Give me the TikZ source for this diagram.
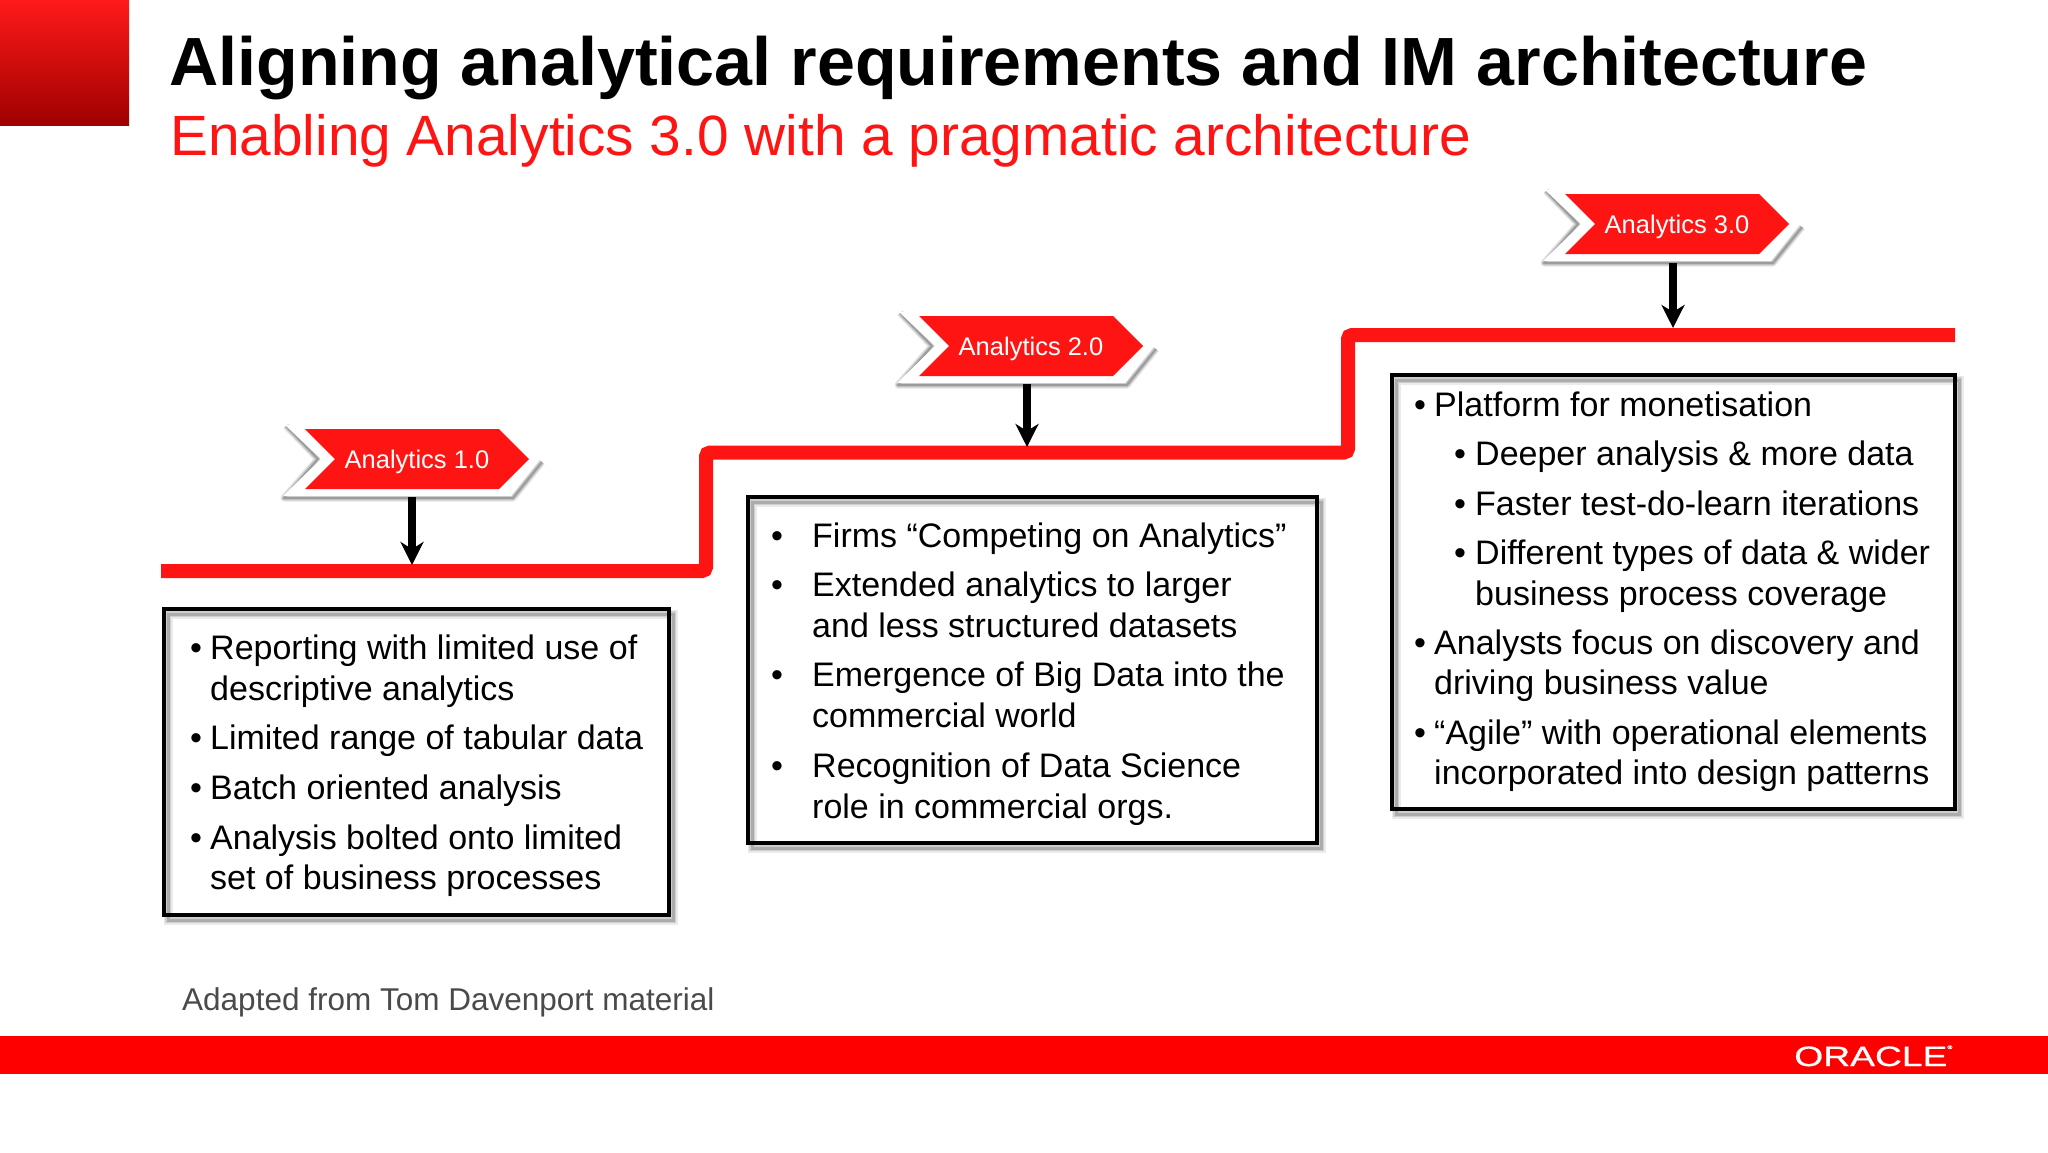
\documentclass[tikz,border=0pt]{standalone}
\usepackage{fontspec}
\setmainfont{Liberation Sans}
\newfontfamily\logofont[FakeBold=0.6]{Liberation Sans}
\usetikzlibrary{arrows.meta,shapes.symbols}
\definecolor{orared}{HTML}{FF1414}
\definecolor{barred}{HTML}{FF0000}
\definecolor{sqtop}{HTML}{FF1A1A}
\definecolor{sqbot}{HTML}{A00000}
\definecolor{footgrey}{HTML}{4A4A4A}
\tikzset{
  titletext/.style={anchor=base west,inner sep=0pt,font=\fontsize{68.2}{80}\selectfont\bfseries,text=black},
  subtext/.style={anchor=base west,inner sep=0pt,font=\fontsize{56.8}{64}\selectfont,text=orared},
  bodytext/.style={anchor=base west,inner sep=0pt,yshift=-1pt,font=\fontsize{34}{41}\selectfont,text=black},
  bullettext/.style={anchor=base,inner sep=0pt,yshift=-1pt,font=\fontsize{34}{41}\selectfont,text=black},
  foottext/.style={anchor=base west,inner sep=0pt,font=\fontsize{31.5}{38}\selectfont,text=footgrey},
  stepline/.style={draw=orared,line width=14pt,rounded corners=4pt,line cap=butt},
  pointer/.style={draw=black,line width=7.5pt,-{Stealth[length=23pt,width=23pt,inset=7pt]},shorten >=-1pt},
  frame/.style={draw=black,line width=4pt,fill=none},
  chevronnode/.style={shape=signal,signal to=east,signal from=west,signal pointer angle=90,fill=orared,draw=none,
    minimum width=224pt,minimum height=60pt,inner sep=0pt,text=white,font=\fontsize{25.5}{30}\selectfont},
}
\newcommand{\chevlabel}[1]{\raisebox{-9pt}[0pt][0pt]{#1}}
\newcommand{\chevback}[2]{%
  \begin{scope}[shift={(#1,#2)}]
    \foreach \w/\o in {7/.10,4.5/.14,2/.20}{
      \draw[black,opacity=\o,line width=\w pt,line join=round] (-131,-33) -- (-99,0) -- (-133,39) -- (96,39) -- (125,3);
    }
    \fill[white] (-132,-34) -- (-96,0) -- (-134,37) -- (94,37) -- (123,0) -- (94,-34) -- cycle;
  \end{scope}}
\newcommand{\boxshadow}[4]{%
  \foreach \w/\o in {9/.08,6/.12,3/.16}{
    \draw[black,opacity=\o,line width=\w pt] (#1+4,#2+5) rectangle (#3+4,#4+5);
  }}
\newcommand{\txline}[4]{\node[bodytext] (#1) at (#2,#3) {#4};}
\newcommand{\txbul}[3]{\node[bullettext] (#1) at (#2,#3) {•};}
\begin{document}
\begin{tikzpicture}[x=1pt,y=-1pt]
\useasboundingbox (0,0) rectangle (2048,1152);
\fill[white] (0,0) rectangle (2048,1152);
% corner square and bar
\shade[top color=sqtop,bottom color=sqbot] (0,0) rectangle (129,125);
\fill[barred] (0,1036) rectangle (2048,1074);
% titles
\node[titletext] (title) at (169,85) {Aligning analytical requirements and IM architecture};
\node[subtext] (subtitle) at (170,155) {Enabling Analytics 3.0 with a pragmatic architecture};
% step line
\coordinate (s0) at (161,571);
\coordinate (s1) at (706,571);
\coordinate (s2) at (706,452.5);
\coordinate (s3) at (1348,452.5);
\coordinate (s4) at (1348,335);
\coordinate (s5) at (1955,335);
\draw[stepline] (s0) -- (s1) -- (s2) -- (s3) -- (s4) -- (s5);
% chevrons
\chevback{417}{459}
\node[chevronnode] (chevA) at (417,459) {\chevlabel{Analytics 1.0}};
\chevback{1031}{346}
\node[chevronnode] (chevB) at (1031,346) {\chevlabel{Analytics 2.0}};
\chevback{1677}{224}
\node[chevronnode] (chevC) at (1677,224) {\chevlabel{Analytics 3.0}};
% arrows
\coordinate (a1) at (412,497); \coordinate (t1) at (412,564);
\coordinate (a2) at (1027,384); \coordinate (t2) at (1027,446);
\coordinate (a3) at (1673,263); \coordinate (t3) at (1673,327);
\draw[pointer] (a1) -- (t1);
\draw[pointer] (a2) -- (t2);
\draw[pointer] (a3) -- (t3);
% boxes
\boxshadow{164}{609}{669}{915}
\node[frame,minimum width=505pt,minimum height=306pt,inner sep=0pt] (boxA) at (416.5,762) {};
\boxshadow{748}{497}{1317}{843}
\node[frame,minimum width=569pt,minimum height=346pt,inner sep=0pt] (boxB) at (1032.5,670) {};
\boxshadow{1392}{375}{1955}{809}
\node[frame,minimum width=563pt,minimum height=434pt,inner sep=0pt] (boxC) at (1673.5,592) {};
% box A
\txbul{bA1}{196}{658} \txline{tA1}{210}{658}{Reporting with limited use of}
\txline{tA2}{210}{699}{descriptive analytics}
\txbul{bA2}{196}{748} \txline{tA3}{210}{748}{Limited range of tabular data}
\txbul{bA3}{196}{798} \txline{tA4}{210}{798}{Batch oriented analysis}
\txbul{bA4}{196}{848} \txline{tA5}{210}{848}{Analysis bolted onto limited}
\txline{tA6}{210}{888}{set of business processes}
% box B
\txbul{bB1}{777}{546} \txline{tB1}{812}{546}{Firms “Competing on Analytics”}
\txbul{bB2}{777}{595} \txline{tB2}{812}{595}{Extended analytics to larger}
\txline{tB3}{812}{636}{and less structured datasets}
\txbul{bB3}{777}{685} \txline{tB4}{812}{685}{Emergence of Big Data into the}
\txline{tB5}{812}{726}{commercial world}
\txbul{bB4}{777}{776} \txline{tB6}{812}{776}{Recognition of Data Science}
\txline{tB7}{812}{817}{role in commercial orgs.}
% box C
\txbul{bC1}{1420}{415} \txline{tC1}{1434}{415}{Platform for monetisation}
\txbul{bC2}{1460}{464} \txline{tC2}{1475}{464}{Deeper analysis \& more data}
\txbul{bC3}{1460}{514} \txline{tC3}{1475}{514}{Faster test-do-learn iterations}
\txbul{bC4}{1460}{563} \txline{tC4}{1475}{563}{Different types of data \& wider}
\txline{tC5}{1475}{604}{business process coverage}
\txbul{bC5}{1420}{653} \txline{tC6}{1434}{653}{Analysts focus on discovery and}
\txline{tC7}{1434}{693}{driving business value}
\txbul{bC6}{1420}{743} \txline{tC8}{1434}{743}{“Agile” with operational elements}
\txline{tC9}{1434}{783}{incorporated into design patterns}
% footer
\node[foottext] (source) at (182,1010) {Adapted from Tom Davenport material};
\node[anchor=base west,inner sep=0pt,text=white,font=\logofont\fontsize{28}{30}\selectfont,xscale=1.33] (logo) at (1794,1066) {ORACLE\raisebox{17pt}{\fontsize{5}{6}\selectfont®}};
\end{tikzpicture}
\end{document}
